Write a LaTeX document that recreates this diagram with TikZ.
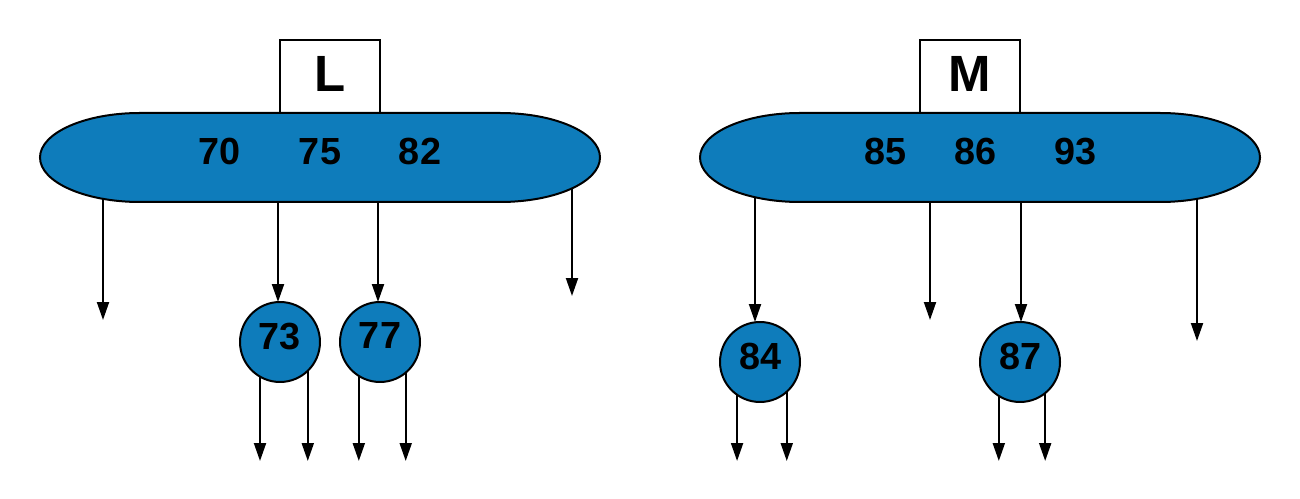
\documentclass[tikz,border=0pt]{standalone}
\usepackage{fontspec}
\setmainfont{Liberation Sans}
\usetikzlibrary{arrows.meta}
\definecolor{keyblue}{RGB}{14,124,187}

\begin{document}
\begin{tikzpicture}[x=0.02cm,y=0.02cm,line width=0.04cm,
  ptr/.style={-{Triangle[width=0.24cm,length=0.36cm]}},
  key/.style={inner sep=0pt,font=\bfseries\fontsize{21.5}{24}\selectfont},
  leaf/.style={circle,draw,fill=keyblue,minimum size=1.6cm,inner sep=0pt,outer sep=0pt,text depth=0.24cm,font=\bfseries\fontsize{21.5}{24}\selectfont},
  tag/.style={draw,fill=white,minimum width=2cm,minimum height=1.46cm,inner sep=0pt,text depth=0.12cm,font=\bfseries\fontsize{29}{32}\selectfont}]
 \useasboundingbox (0,0) rectangle (1300,-499);
 % page names
 \node[tag] (tagL) at (330,-76.5) {L};
 \node[tag] (tagM) at (970,-76.5) {M};
 % inner pages
 \draw[fill=keyblue] (140,-113) -- (500,-113) arc[start angle=90,end angle=-90,x radius=100,y radius=44.5] -- (140,-202) arc[start angle=270,end angle=90,x radius=100,y radius=44.5] -- cycle;
 \draw[fill=keyblue] (800,-113) -- (1160,-113) arc[start angle=90,end angle=-90,x radius=100,y radius=44.5] -- (800,-202) arc[start angle=270,end angle=90,x radius=100,y radius=44.5] -- cycle;
 \node[key] (k70) at (220,-151.5) {70};
 \node[key] (k75) at (320,-151.5) {75};
 \node[key] (k82) at (420,-151.5) {82};
 \node[key] (k85) at (885,-151.5) {85};
 \node[key] (k86) at (975,-151.5) {86};
 \node[key] (k93) at (1075,-151.5) {93};
 % leaves
 \node[leaf] (c73) at (280,-342) {73};
 \node[leaf] (c77) at (380,-342) {77};
 \node[leaf] (c84) at (760,-362) {84};
 \node[leaf] (c87) at (1020,-362) {87};
 % pointers
 \coordinate (l0) at (103,-198); \coordinate (l0e) at (103,-320);
 \coordinate (l1) at (278,-202);
 \coordinate (l2) at (378,-202);
 \coordinate (l3) at (572,-188); \coordinate (l3e) at (572,-296);
 \coordinate (r0) at (755,-197);
 \coordinate (r1) at (930,-202); \coordinate (r1e) at (930,-320);
 \coordinate (r2) at (1021,-202);
 \coordinate (r3) at (1197,-199); \coordinate (r3e) at (1197,-341);
 \coordinate (bot) at (0,-461);
 \draw[ptr] (l0) -- (l0e);
 \draw[ptr] (l1) -- (l1 |- c73.north);
 \draw[ptr] (l2) -- (l2 |- c77.north);
 \draw[ptr] (l3) -- (l3e);
 \draw[ptr] (r0) -- (r0 |- c84.north);
 \draw[ptr] (r1) -- (r1e);
 \draw[ptr] (r2) -- (r2 |- c87.north);
 \draw[ptr] (r3) -- (r3e);
 \draw[ptr] (c73.240) -- (c73.240 |- bot);
 \draw[ptr] (c73.314) -- (c73.314 |- bot);
 \draw[ptr] (c77.238) -- (c77.238 |- bot);
 \draw[ptr] (c77.310) -- (c77.310 |- bot);
 \draw[ptr] (c84.235) -- (c84.235 |- bot);
 \draw[ptr] (c84.312) -- (c84.312 |- bot);
 \draw[ptr] (c87.238) -- (c87.238 |- bot);
 \draw[ptr] (c87.309) -- (c87.309 |- bot);
\end{tikzpicture}
\end{document}
